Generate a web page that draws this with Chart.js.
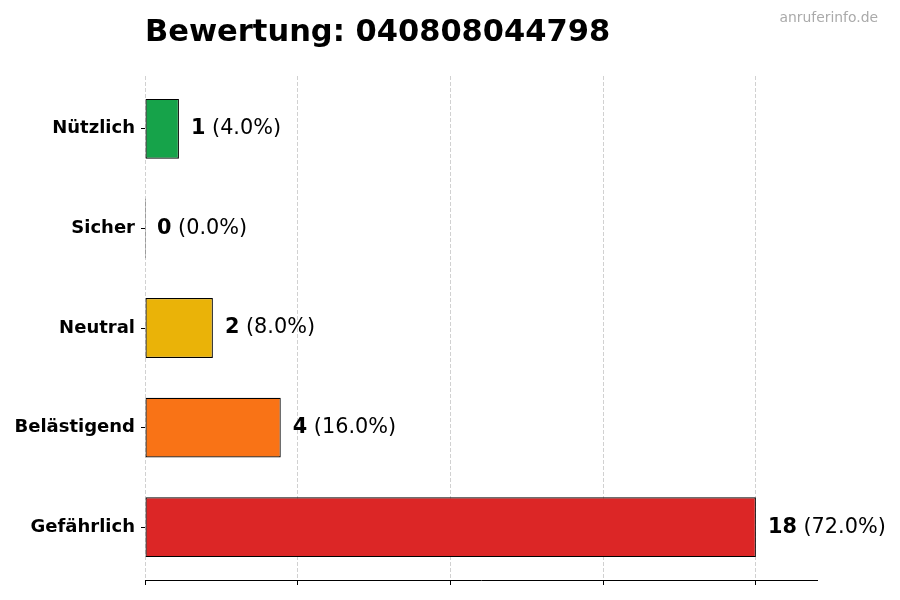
<!DOCTYPE html>
<html><head><meta charset="utf-8">
<script src="https://cdn.jsdelivr.net/npm/chart.js@4/dist/chart.umd.min.js"></script>
<style>html,body{margin:0;padding:0;background:#fff}#wrap{width:900px;height:600px}</style>
</head><body><div id="wrap"><canvas id="c" width="900" height="600"></canvas></div>
<script>
const categories = ["Nützlich", "Sicher", "Neutral", "Belästigend", "Gefährlich"];
const counts = [1, 0, 2, 4, 18];
const percents = ["4.0%", "0.0%", "8.0%", "16.0%", "72.0%"];
const colors = ["#16a34a", "#3b82f6", "#eab308", "#f97316", "#dc2626"];
const xTicks = [0, 4.5, 9, 13.5, 18];
const xMax = 19.8;
const titleText = "Bewertung: 040808044798";
const watermark = "anruferinfo.de";

const FONT = "'DejaVu Sans', sans-serif";

const labelPlugin = {
  id: 'valueLabels',
  afterDatasetsDraw(chart) {
    const ctx = chart.ctx;
    const meta = chart.getDatasetMeta(0);
    const xs = chart.scales.x;
    ctx.save();
    ctx.textBaseline = 'middle';
    ctx.fillStyle = '#000';
    meta.data.forEach((bar, i) => {
      let x = xs.getPixelForValue(counts[i]) + 12;
      const y = bar.y;
      ctx.font = "bold 20.8px " + FONT;
      const a = String(counts[i]);
      ctx.fillText(a, x, y);
      x += ctx.measureText(a).width;
      ctx.font = "20.8px " + FONT;
      ctx.fillText(" (" + percents[i] + ")", x, y);
    });
    ctx.restore();
  }
};

const textPlugin = {
  id: 'titles',
  afterDraw(chart) {
    const ctx = chart.ctx;
    ctx.save();
    ctx.fillStyle = '#000';
    ctx.textBaseline = 'alphabetic';
    ctx.textAlign = 'left';
    ctx.font = "bold 30.5px " + FONT;
    ctx.fillText(titleText, chart.chartArea.left, 41);
    ctx.fillStyle = '#aaaaaa';
    ctx.textAlign = 'right';
    ctx.font = "13.9px " + FONT;
    ctx.fillText(watermark, 878, 22);
    ctx.restore();
  }
};

new Chart(document.getElementById('c'), {
  type: 'bar',
  data: {
    datasets: [{
      data: counts.map((v, i) => ({ x: v, y: i })),
      backgroundColor: colors,
      borderColor: '#000',
      borderWidth: 1.2,
      borderSkipped: false,
      minBarLength: 1,
      categoryPercentage: 1.0,
      barPercentage: 0.6
    }]
  },
  options: {
    indexAxis: 'y',
    responsive: false,
    animation: false,
    devicePixelRatio: 1,
    layout: { padding: { top: 76, bottom: 15, left: 0, right: 83 } },
    plugins: { legend: { display: false }, title: { display: false }, tooltip: { enabled: false } },
    scales: {
      x: {
        type: 'linear',
        min: 0, max: xMax,
        z: 1,
        offset: false,
        afterBuildTicks(scale) { scale.ticks = xTicks.map(v => ({ value: v })); },
        ticks: { display: false },
        grid: {
          color: 'rgba(0,0,0,0.18)',
          lineWidth: 1,
          drawTicks: true,
          tickLength: 5,
          tickColor: '#000',
          tickBorderDash: [],
          tickWidth: 1
        },
        border: { display: true, color: '#000', width: 1, dash: [4, 2] }
      },
      y: {
        type: 'linear',
        min: -0.53, max: 4.53,
        reverse: true,
        offset: false,
        afterBuildTicks(scale) { scale.ticks = categories.map((c, i) => ({ value: i })); },
        afterFit(scale) { scale.width = 145; },
        ticks: {
          color: '#000',
          font: { family: FONT, weight: 'bold', size: 18 },
          padding: 6,
          callback: (v) => categories[v]
        },
        grid: { drawOnChartArea: false, drawTicks: true, tickLength: 4, color: '#000', offset: false },
        border: { display: false }
      }
    }
  },
  plugins: [labelPlugin, textPlugin]
});
</script></body></html>
